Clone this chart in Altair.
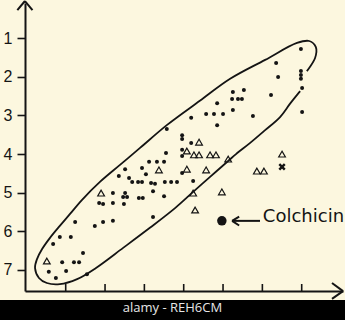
import altair as alt
import pandas as pd

# ---- data (axis units) ----
dot_x = [0.57, 0.75, 1.01, 1.54, 0.91, 1.21, 1.34, 1.44, 0.68, 0.85, 1.13, 1.24, 1.74, 1.95, 2.20,
         2.20, 1.85, 1.95, 2.20, 2.48, 2.51, 2.46, 2.56, 2.35, 2.51, 2.94, 3.04, 2.61, 2.69, 2.84,
         2.94, 3.17, 3.27, 3.52, 3.68, 3.83, 2.86, 2.96, 3.22, 3.50, 3.22, 3.12, 3.32, 3.50, 3.55,
         3.57, 3.96, 3.96, 4.19, 3.96, 3.96, 3.96, 4.24, 4.19, 4.57, 4.77, 5.00, 4.85, 4.85, 5.25,
         5.25, 5.53, 5.23, 5.38, 5.48, 5.76, 6.22, 6.35, 6.40, 6.98, 6.98, 6.98, 6.98, 7.01, 7.01]
dot_y = [7.05, 7.21, 7.03, 7.11, 6.80, 6.80, 6.80, 6.56, 6.33, 6.15, 6.15, 5.76, 5.86, 5.76, 5.73,
         5.01, 5.27, 5.29, 5.27, 5.29, 5.01, 5.11, 5.11, 4.57, 4.39, 4.36, 4.52, 4.62, 4.72, 4.72,
         4.72, 4.75, 4.77, 4.72, 4.72, 4.72, 5.14, 5.14, 4.96, 5.09, 5.63, 4.20, 4.20, 4.20, 3.97,
         3.35, 3.51, 3.61, 3.71, 3.89, 4.05, 4.49, 4.70, 3.06, 2.96, 2.96, 2.96, 2.68, 3.25, 2.86,
         2.39, 2.34, 2.57, 2.57, 2.57, 3.01, 2.47, 1.64, 2.00, 1.28, 1.85, 1.95, 2.05, 2.29, 2.91]

tri_x = [0.52, 1.90, 3.37, 4.08, 4.39, 4.26, 4.39, 4.67, 4.82, 5.13, 4.08, 4.57, 5.86, 6.04,
         6.50, 4.24, 4.97, 4.29]
tri_y = [6.77, 5.01, 4.41, 3.92, 3.69, 4.02, 4.02, 4.02, 4.02, 4.13, 4.39, 4.41, 4.44, 4.44,
         4.00, 5.01, 4.98, 5.45]

cross_x = [6.50]
cross_y = [4.33]

colch_x = [4.97]
colch_y = [5.73]
colch_label = ["Colchicin"]

# enclosing hand-drawn loop (open at the upper right end)
loop_x = [6.96, 6.70, 6.45, 6.07, 5.69, 5.33, 5.13, 4.67, 4.24, 3.78, 3.14, 2.46, 1.77, 1.29, 0.85,
          0.52, 0.32, 0.22, 0.27, 0.40, 0.60, 0.85, 1.11, 1.41, 1.87, 2.38, 2.89, 3.57, 4.41, 5.18,
          6.07, 6.88, 7.19, 7.36, 7.34, 7.13]
loop_y = [2.37, 2.70, 3.04, 3.38, 3.71, 4.00, 4.18, 4.59, 4.98, 5.40, 5.91, 6.43, 6.95, 7.24, 7.37,
          7.34, 7.21, 6.95, 6.72, 6.46, 6.17, 5.86, 5.55, 5.19, 4.72, 4.28, 3.84, 3.25, 2.62, 2.05,
          1.56, 1.12, 1.07, 1.23, 1.51, 1.85]

y_ticks = [1, 2, 3, 4, 5, 6, 7]
x_ticks = [1, 2, 3, 4, 5, 6, 7]

# annotation segments: axis arrow heads and the pointer arrow
seg_x1 = [-0.036, -0.036, 8.05, 8.05, 5.23, 5.23, 5.23]
seg_y1 = [0.034, 0.034, 7.55, 7.55, 5.73, 5.73, 5.73]
seg_x2 = [-0.23, 0.155, 7.77, 7.77, 5.94, 5.41, 5.41]
seg_y2 = [0.27, 0.27, 7.34, 7.75, 5.73, 5.62, 5.85]

watermark = ["alamy - REH6CM"]

INK = "#141414"
BG = "#FCF7DF"

xs = alt.Scale(domain=[-0.035, 8.05], nice=False, zero=False)
ys = alt.Scale(domain=[0.0855, 7.547], reverse=True, nice=False, zero=False)

dots = pd.DataFrame({"x": dot_x, "y": dot_y})
tris = pd.DataFrame({"x": tri_x, "y": tri_y})
cross = pd.DataFrame({"x": cross_x, "y": cross_y})
colch = pd.DataFrame({"x": colch_x, "y": colch_y, "label": colch_label})
loop = pd.DataFrame({"x": loop_x, "y": loop_y, "o": list(range(len(loop_x)))})
segs = pd.DataFrame({"x": seg_x1, "y": seg_y1, "x2": seg_x2, "y2": seg_y2})
xt = pd.DataFrame({"x": x_ticks})
wm = pd.DataFrame({"t": watermark})

base_x = alt.X("x:Q", scale=xs,
               axis=alt.Axis(labels=False, ticks=False, grid=False, title=None,
                             domainColor=INK, domainWidth=2))
base_y = alt.Y("y:Q", scale=ys,
               axis=alt.Axis(values=y_ticks, grid=False, title=None, domainColor=INK,
                             domainWidth=2, tickColor=INK, tickWidth=1.6, tickSize=8,
                             labelPadding=5, labelFontSize=16, labelColor=INK,
                             labelFont="Liberation Sans", labelFontWeight="normal"))

dot_layer = alt.Chart(dots).mark_circle(size=16, color=INK, opacity=1).encode(x=base_x, y=base_y)

tri_layer = alt.Chart(tris).mark_point(shape="triangle-up", size=45, filled=False,
                                       color=INK, strokeWidth=1.2, opacity=1).encode(
    x=alt.X("x:Q", scale=xs), y=alt.Y("y:Q", scale=ys))

cross_layer = alt.Chart(cross).mark_point(shape="M-1,-1L1,1M-1,1L1,-1", size=30, filled=False,
                                          color=INK, strokeWidth=2.4, opacity=1).encode(
    x=alt.X("x:Q", scale=xs), y=alt.Y("y:Q", scale=ys))

colch_dot = alt.Chart(colch).mark_circle(size=90, color=INK, opacity=1).encode(
    x=alt.X("x:Q", scale=xs), y=alt.Y("y:Q", scale=ys))

colch_text = alt.Chart(colch).mark_text(align="left", baseline="middle", fontSize=18,
                                        font="DejaVu Sans", color=INK, dx=41, dy=-4).encode(
    x=alt.X("x:Q", scale=xs), y=alt.Y("y:Q", scale=ys), text="label:N")

loop_layer = alt.Chart(loop).mark_line(color=INK, strokeWidth=1.8,
                                       interpolate="catmull-rom").encode(
    x=alt.X("x:Q", scale=xs), y=alt.Y("y:Q", scale=ys), order="o:Q")

seg_layer = alt.Chart(segs).mark_rule(color=INK, strokeWidth=2).encode(
    x=alt.X("x:Q", scale=xs), y=alt.Y("y:Q", scale=ys), x2="x2:Q", y2="y2:Q")

xtick_layer = alt.Chart(xt).mark_rule(color=INK, strokeWidth=1.6).encode(
    x=alt.X("x:Q", scale=xs), y=alt.value(288), y2=alt.value(281))

bar = alt.Chart(wm).mark_rect(color="#000000").encode(
    x=alt.value(-25), x2=alt.value(320), y=alt.value(297), y2=alt.value(317))
bar_text = alt.Chart(wm).mark_text(align="center", baseline="alphabetic", fontSize=13,
                                   font="Open Sans", color="#e6e6e6").encode(
    x=alt.value(147.5), y=alt.value(309), text="t:N")

chart = alt.layer(
    dot_layer, loop_layer, tri_layer, cross_layer, colch_dot, colch_text,
    seg_layer, xtick_layer, bar, bar_text
).properties(
    width=318, height=288,
    autosize=alt.AutoSizeParams(type="none"),
    padding={"left": 25, "top": 3, "right": 2, "bottom": 29},
    background=BG,
).configure_view(stroke=None)

chart.save("out.html", embed_options={"renderer": "svg", "actions": False})
